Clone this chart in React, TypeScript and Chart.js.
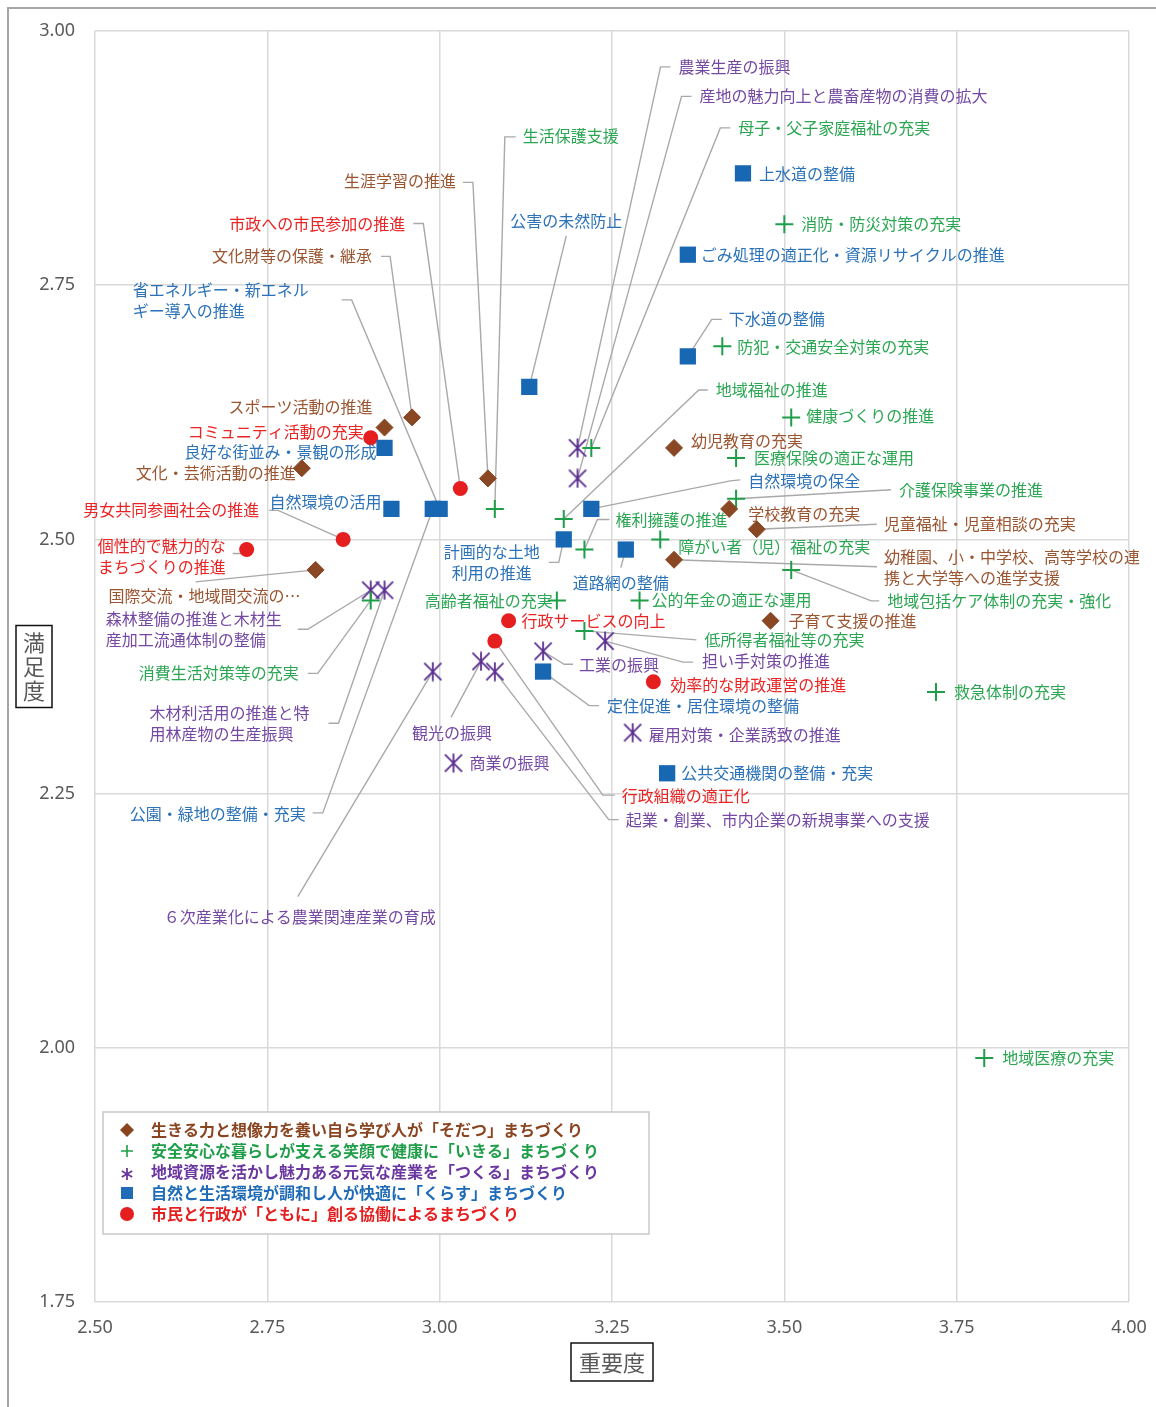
import React, { useEffect, useRef } from 'react';
import { Chart, registerables } from 'chart.js';

Chart.register(...registerables);

// ---------- data ----------
const SERIES_NAMES = [
  '生きる力と想像力を養い自ら学び人が「そだつ」まちづくり',
  '安全安心な暮らしが支える笑顔で健康に「いきる」まちづくり',
  '地域資源を活かし魅力ある元気な産業を「つくる」まちづくり',
  '自然と生活環境が調和し人が快適に「くらす」まちづくり',
  '市民と行政が「ともに」創る協働によるまちづくり',
];

const SODATSU_NAMES = [
  '生涯学習の推進', '文化財等の保護・継承', 'スポーツ活動の推進', '文化・芸術活動の推進',
  '国際交流・地域間交流の…', '幼児教育の充実', '学校教育の充実', '児童福祉・児童相談の充実',
  '幼稚園、小・中学校、高等学校の連\n携と大学等への進学支援', '子育て支援の推進',
];
const SODATSU_IMP = [3.07, 2.96, 2.92, 2.80, 2.82, 3.34, 3.42, 3.46, 3.34, 3.48];
const SODATSU_SAT = [2.56, 2.62, 2.61, 2.57, 2.47, 2.59, 2.53, 2.51, 2.48, 2.42];

const IKIRU_NAMES = [
  '生活保護支援', '母子・父子家庭福祉の充実', '消防・防災対策の充実', '防犯・交通安全対策の充実',
  '地域福祉の推進', '健康づくりの推進', '医療保険の適正な運用', '介護保険事業の推進',
  '権利擁護の推進', '障がい者（児）福祉の充実', '地域包括ケア体制の充実・強化', '高齢者福祉の充実',
  '公的年金の適正な運用', '低所得者福祉等の充実', '救急体制の充実', '地域医療の充実', '消費生活対策等の充実',
];
const IKIRU_IMP = [3.08, 3.22, 3.50, 3.41, 3.18, 3.51, 3.43, 3.43, 3.21, 3.32, 3.51, 3.17, 3.29, 3.21, 3.72, 3.79, 2.90];
const IKIRU_SAT = [2.53, 2.59, 2.81, 2.69, 2.52, 2.62, 2.58, 2.54, 2.49, 2.50, 2.47, 2.44, 2.44, 2.41, 2.35, 1.99, 2.44];

const TSUKURU_NAMES = [
  '農業生産の振興', '産地の魅力向上と農畜産物の消費の拡大', '森林整備の推進と木材生\n産加工流通体制の整備',
  '木材利活用の推進と特\n用林産物の生産振興', '６次産業化による農業関連産業の育成', '観光の振興',
  '起業・創業、市内企業の新規事業への支援', '商業の振興', '工業の振興', '担い手対策の推進', '雇用対策・企業誘致の推進',
];
const TSUKURU_IMP = [3.20, 3.20, 2.90, 2.92, 2.99, 3.06, 3.08, 3.02, 3.15, 3.24, 3.28];
const TSUKURU_SAT = [2.59, 2.56, 2.45, 2.45, 2.37, 2.38, 2.37, 2.28, 2.39, 2.40, 2.31];

const KURASU_NAMES = [
  '上水道の整備', 'ごみ処理の適正化・資源リサイクルの推進', '下水道の整備', '公害の未然防止',
  '良好な街並み・景観の形成', '自然環境の活用', '省エネルギー・新エネル\nギー導入の推進', '公園・緑地の整備・充実',
  '自然環境の保全', '計画的な土地\n利用の推進', '道路網の整備', '定住促進・居住環境の整備', '公共交通機関の整備・充実',
];
const KURASU_IMP = [3.44, 3.36, 3.36, 3.13, 2.92, 2.93, 3.00, 2.99, 3.22, 3.18, 3.27, 3.15, 3.33];
const KURASU_SAT = [2.86, 2.78, 2.68, 2.65, 2.59, 2.53, 2.53, 2.53, 2.53, 2.50, 2.49, 2.37, 2.27];

const TOMONI_NAMES = [
  '市政への市民参加の推進', 'コミュニティ活動の充実', '男女共同参画社会の推進', '個性的で魅力的な\nまちづくりの推進',
  '行政サービスの向上', '行政組織の適正化', '効率的な財政運営の推進',
];
const TOMONI_IMP = [3.03, 2.90, 2.86, 2.72, 3.10, 3.08, 3.31];
const TOMONI_SAT = [2.55, 2.60, 2.50, 2.49, 2.42, 2.40, 2.36];

const X_TICKS = [2.5, 2.75, 3.0, 3.25, 3.5, 3.75, 4.0];
const Y_TICKS = [1.75, 2.0, 2.25, 2.5, 2.75, 3.0];
const X_TITLE = '重要度';
const Y_TITLE = '満足度';

// ---------- label layout (pixel offsets from each marker) ----------
type Lbl = { dx: number; dy: number; align?: 'left' | 'right' | 'center'; lead?: number[][] };

const SODATSU_LBL: Lbl[] = [
  { dx: -32, dy: -297, align: 'right', lead: [[-25, -296], [-15, -296]] },
  { dx: -40, dy: -161, align: 'right', lead: [[-31, -161], [-22, -161]] },
  { dx: -12, dy: -21, align: 'right' },
  { dx: -6, dy: 5, align: 'right' },
  { dx: -207, dy: 26, align: 'left', lead: [[-120, 12]] },
  { dx: 17, dy: -7 },
  { dx: 19, dy: 5 },
  { dx: 127, dy: -5, lead: [[120, -5]] },
  { dx: 210, dy: -3, lead: [[203, 7]] },
  { dx: 18, dy: 0 },
];
const IKIRU_LBL: Lbl[] = [
  { dx: 28, dy: -373, lead: [[21, -372], [10, -372]] },
  { dx: 147, dy: -320, lead: [[139, -320], [129, -320]] },
  { dx: 17, dy: 0 },
  { dx: 15, dy: 1 },
  { dx: 152, dy: -129, lead: [[144, -129], [135, -129]] },
  { dx: 15, dy: -1 },
  { dx: 18, dy: 0 },
  { dx: 163, dy: -9, lead: [[155, -9]] },
  { dx: 31, dy: -30, lead: [[25, -30], [13, -30]] },
  { dx: 18, dy: 8 },
  { dx: 96, dy: 31, lead: [[88, 31], [80, 31]] },
  { dx: -4, dy: 1, align: 'right' },
  { dx: 12, dy: 0 },
  { dx: 120, dy: 9, lead: [[112, 9]] },
  { dx: 18, dy: 0 },
  { dx: 18, dy: 0 },
  { dx: -72, dy: 73, align: 'right', lead: [[-63, 73], [-53, 73]] },
];
const TSUKURU_LBL: Lbl[] = [
  { dx: 101, dy: -381, lead: [[93, -381], [83, -381]] },
  { dx: 122, dy: -382, lead: [[114, -382], [104, -382]] },
  { dx: -265, dy: 29, lead: [[-73, 39], [-63, 39]] },
  { dx: -235, dy: 123, lead: [[-56, 133], [-46, 133]] },
  { dx: -269, dy: 245, lead: [[-135, 225]] },
  { dx: -69, dy: 72, lead: [[-30, 56]] },
  { dx: 131, dy: 148, lead: [[124, 148], [114, 148]] },
  { dx: 16, dy: 0 },
  { dx: 36, dy: 14, lead: [[30, 13], [21, 13]] },
  { dx: 97, dy: 20, lead: [[88, 21], [78, 21]] },
  { dx: 16, dy: 2 },
];
const KURASU_LBL: Lbl[] = [
  { dx: 16, dy: 1 },
  { dx: 13, dy: 0 },
  { dx: 41, dy: -37, lead: [[34, -37], [24, -37]] },
  { dx: -19, dy: -166, lead: [[37, -151]] },
  { dx: -8, dy: 4, align: 'right' },
  { dx: -10, dy: -7, align: 'right' },
  { dx: -307, dy: -219, lead: [[-98, -209], [-88, -209]] },
  { dx: -303, dy: 305, lead: [[-120, 304], [-110, 304]] },
  { dx: 157, dy: -28, lead: [[149, -29], [139, -28]] },
  { dx: -72, dy: 13, align: 'center', lead: [[-15, 23], [-5, 23]] },
  { dx: -5, dy: 33, align: 'center', lead: [[-5, 18]] },
  { dx: 64, dy: 34, lead: [[56, 34], [46, 34]] },
  { dx: 14, dy: 0 },
];
const TOMONI_LBL: Lbl[] = [
  { dx: -55, dy: -265, align: 'right', lead: [[-47, -265], [-37, -265]] },
  { dx: -7, dy: -6, align: 'right' },
  { dx: -84, dy: -29, align: 'right', lead: [[-74, -29], [-65, -29]] },
  { dx: -21, dy: -4, align: 'right', lead: [[-14, 4], [-4, 4]] },
  { dx: 13, dy: 0 },
  { dx: 127, dy: 155, lead: [[120, 154], [108, 154]] },
  { dx: 17, dy: 3 },
];

const LAYOUTS = [SODATSU_LBL, IKIRU_LBL, TSUKURU_LBL, KURASU_LBL, TOMONI_LBL];
const NAMES = [SODATSU_NAMES, IKIRU_NAMES, TSUKURU_NAMES, KURASU_NAMES, TOMONI_NAMES];
const MARK_COLORS = ['#8a4724', '#1f9e49', '#5c2e91', '#1767b3', '#e51f1f'];
const TEXT_COLORS = ['#9a5530', '#2ba652', '#7448a3', '#2b72b8', '#ea2323'];
const LEGEND_COLORS = ['#8a4520', '#1f9e49', '#6a36a0', '#1f6bb8', '#e51f1f'];

const CJK = '"Noto Sans CJK JP", "Noto Sans", sans-serif';

function pts(imp: number[], sat: number[]) {
  return imp.map((x, i) => ({ x, y: sat[i] }));
}

function makeAsterisk(color: string, size: number) {
  const c = document.createElement('canvas');
  c.width = size;
  c.height = size;
  const g = c.getContext('2d')!;
  g.strokeStyle = color;
  g.lineWidth = 1.8;
  g.lineCap = 'butt';
  const m = size / 2;
  const r = size / 2 - 0.5;
  const d = r * 0.9;
  g.beginPath();
  g.moveTo(m, m - r); g.lineTo(m, m + r);
  g.moveTo(m - d, m - d); g.lineTo(m + d, m + d);
  g.moveTo(m + d, m - d); g.lineTo(m - d, m + d);
  g.stroke();
  return c;
}

const labelPlugin = {
  id: 'pointLabels',
  beforeDatasetsDraw(chart: any) {
    const ctx = chart.ctx;
    ctx.save();
    ctx.strokeStyle = '#a9a9a9';
    ctx.lineWidth = 1.4;
    chart.data.datasets.forEach((_ds: any, di: number) => {
      const meta = chart.getDatasetMeta(di);
      meta.data.forEach((el: any, i: number) => {
        const L = LAYOUTS[di][i];
        if (!L || !L.lead) return;
        ctx.beginPath();
        ctx.moveTo(el.x + L.lead[0][0], el.y + L.lead[0][1]);
        for (let k = 1; k < L.lead.length; k++) ctx.lineTo(el.x + L.lead[k][0], el.y + L.lead[k][1]);
        ctx.lineTo(el.x, el.y);
        ctx.stroke();
      });
    });
    ctx.restore();
  },
  afterDatasetsDraw(chart: any) {
    const ctx = chart.ctx;
    ctx.save();
    ctx.font = `16px ${CJK}`;
    ctx.textBaseline = 'middle';
    chart.data.datasets.forEach((_ds: any, di: number) => {
      const meta = chart.getDatasetMeta(di);
      ctx.fillStyle = TEXT_COLORS[di];
      meta.data.forEach((el: any, i: number) => {
        const L = LAYOUTS[di][i];
        const lines = NAMES[di][i].split('\n');
        ctx.textAlign = L.align || 'left';
        lines.forEach((t: string, k: number) => {
          ctx.fillText(t, el.x + L.dx, el.y + L.dy + k * 21);
        });
      });
    });
    ctx.restore();
  },
};

const decorPlugin = {
  id: 'decor',
  afterDraw(chart: any) {
    const ctx = chart.ctx;
    const a = chart.chartArea;
    ctx.save();
    // legend
    const bx = a.left + 8, by = a.bottom - 190, bw = 546, bh = 122;
    ctx.fillStyle = '#ffffff';
    ctx.fillRect(bx, by, bw, bh);
    ctx.strokeStyle = '#c8c8c8';
    ctx.lineWidth = 1.5;
    ctx.strokeRect(bx, by, bw, bh);
    ctx.font = `bold 16px ${CJK}`;
    ctx.textBaseline = 'middle';
    ctx.textAlign = 'left';
    chart.data.datasets.forEach((ds: any, di: number) => {
      const cy = by + 18 + di * 21;
      const cx = bx + 24;
      const col = LEGEND_COLORS[di];
      ctx.fillStyle = col;
      ctx.strokeStyle = col;
      ctx.beginPath();
      if (di === 0) {
        ctx.moveTo(cx, cy - 7); ctx.lineTo(cx + 7, cy); ctx.lineTo(cx, cy + 7); ctx.lineTo(cx - 7, cy); ctx.closePath(); ctx.fill();
      } else if (di === 1) {
        ctx.lineWidth = 1.6;
        ctx.moveTo(cx - 6, cy); ctx.lineTo(cx + 6, cy); ctx.moveTo(cx, cy - 6); ctx.lineTo(cx, cy + 6); ctx.stroke();
      } else if (di === 2) {
        ctx.lineWidth = 1.8;
        for (let k = 0; k < 3; k++) {
          const ang = Math.PI / 2 + (k * Math.PI) / 3;
          ctx.moveTo(cx - 6 * Math.cos(ang), cy + 2 - 6 * Math.sin(ang));
          ctx.lineTo(cx + 6 * Math.cos(ang), cy + 2 + 6 * Math.sin(ang));
        }
        ctx.stroke();
      } else if (di === 3) {
        ctx.fillRect(cx - 6, cy - 6, 12, 12);
      } else {
        ctx.arc(cx, cy, 7, 0, Math.PI * 2); ctx.fill();
      }
      ctx.fillStyle = col;
      ctx.fillText(ds.label, bx + 48, cy);
    });
    // axis titles
    ctx.strokeStyle = '#111';
    ctx.lineWidth = 1.5;
    ctx.fillStyle = '#fff';
    const ycx = 34, ycy = (a.top + a.bottom) / 2;
    ctx.fillRect(16, ycy - 41, 36, 82);
    ctx.strokeRect(16, ycy - 41, 36, 82);
    ctx.fillStyle = '#595959';
    ctx.font = `22px ${CJK}`;
    ctx.textAlign = 'center';
    Y_TITLE.split('').forEach((ch, k) => ctx.fillText(ch, ycx, ycy - 24 + k * 24));
    const xcx = (a.left + a.right) / 2, xcy = 1362;
    ctx.fillStyle = '#fff';
    ctx.fillRect(xcx - 41, xcy - 19, 82, 38);
    ctx.strokeRect(xcx - 41, xcy - 19, 82, 38);
    ctx.fillStyle = '#595959';
    ctx.fillText(X_TITLE, xcx, xcy + 1);
    ctx.restore();
  },
};

export default function App() {
  const ref = useRef<HTMLCanvasElement>(null);
  useEffect(() => {
    const star = makeAsterisk(MARK_COLORS[2], 20);
    const chart = new Chart(ref.current as HTMLCanvasElement, {
      type: 'scatter',
      data: {
        datasets: [
          {
            label: SERIES_NAMES[0], data: pts(SODATSU_IMP, SODATSU_SAT),
            pointStyle: 'rectRot', pointRadius: 8.5, backgroundColor: MARK_COLORS[0], borderColor: MARK_COLORS[0], borderWidth: 1,
          },
          {
            label: SERIES_NAMES[1], data: pts(IKIRU_IMP, IKIRU_SAT),
            pointStyle: 'cross', pointRadius: 9, backgroundColor: MARK_COLORS[1], borderColor: MARK_COLORS[1], borderWidth: 2,
          },
          {
            label: SERIES_NAMES[2], data: pts(TSUKURU_IMP, TSUKURU_SAT),
            pointStyle: star as any, pointRadius: 10, backgroundColor: MARK_COLORS[2], borderColor: MARK_COLORS[2],
          },
          {
            label: SERIES_NAMES[3], data: pts(KURASU_IMP, KURASU_SAT),
            pointStyle: 'rect', pointRadius: 11.5, backgroundColor: MARK_COLORS[3], borderColor: MARK_COLORS[3], borderWidth: 0,
          },
          {
            label: SERIES_NAMES[4], data: pts(TOMONI_IMP, TOMONI_SAT),
            pointStyle: 'circle', pointRadius: 7.5, backgroundColor: MARK_COLORS[4], borderColor: MARK_COLORS[4], borderWidth: 0,
          },
        ] as any,
      },
      options: {
        responsive: false,
        animation: false,
        layout: { padding: { top: 31, right: 27, left: 0, bottom: 0 } },
        plugins: { legend: { display: false }, tooltip: { enabled: false } },
        scales: {
          x: {
            type: 'linear', min: 2.5, max: 4.0,
            afterBuildTicks: (s: any) => { s.ticks = X_TICKS.map((v) => ({ value: v })); },
            afterFit: (s: any) => { s.height = 105; s.paddingLeft = 0; s.paddingRight = 0; },
            ticks: {
              callback: (v: any) => Number(v).toFixed(2),
              font: { size: 18, family: '"Noto Sans", sans-serif' }, color: '#595959', padding: 15, maxRotation: 0,
            },
            grid: { color: '#d9d9d9', lineWidth: 1.5, drawTicks: false },
            border: { display: false },
          },
          y: {
            type: 'linear', min: 1.75, max: 3.0,
            afterBuildTicks: (s: any) => { s.ticks = Y_TICKS.map((v) => ({ value: v })); },
            afterFit: (s: any) => { s.width = 95; s.paddingTop = 0; s.paddingBottom = 0; },
            ticks: {
              callback: (v: any) => Number(v).toFixed(2),
              font: { size: 18, family: '"Noto Sans", sans-serif' }, color: '#595959', padding: 20,
            },
            grid: { color: '#d9d9d9', lineWidth: 1.5, drawTicks: false },
            border: { display: false },
          },
        },
      } as any,
      plugins: [labelPlugin, decorPlugin],
    });
    return () => chart.destroy();
  }, []);

  return (
    <div style={{ position: 'absolute', left: 0, top: 0, width: 1156, height: 1407, overflow: 'hidden', background: '#fff' }}>
      <div
        style={{
          position: 'absolute', left: 7, top: 7, width: 1300, height: 1500,
          borderLeft: '2px solid #a6a6a6', borderTop: '2px solid #a6a6a6',
        }}
      />
      <canvas ref={ref} width={1156} height={1407} style={{ position: 'absolute', left: 0, top: 0, width: 1156, height: 1407 }} />
    </div>
  );
}
